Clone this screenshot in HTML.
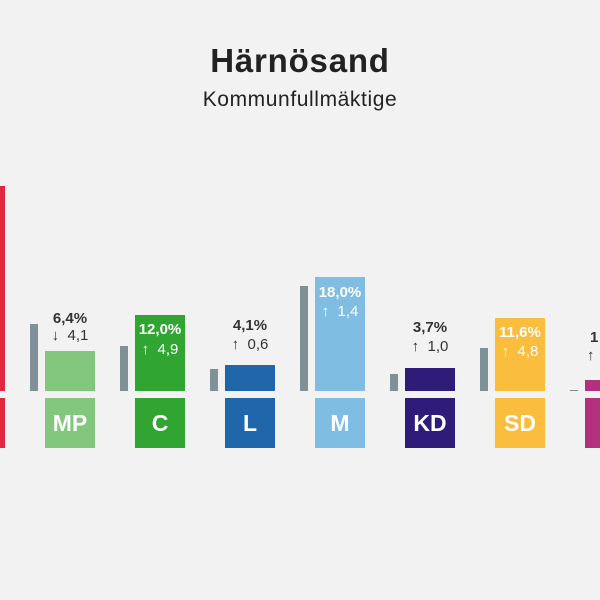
<!DOCTYPE html>
<html><head><meta charset="utf-8"><style>
html,body{margin:0;width:600px;height:600px;overflow:hidden;}
body{background:#f2f2f2;position:relative;font-family:"Liberation Sans",sans-serif;}
.a{position:absolute;}
.t{position:absolute;left:0;width:600px;text-align:center;color:#222;}
.lab{position:absolute;width:50px;height:50px;top:398px;color:#fff;font-weight:bold;font-size:23px;text-align:center;line-height:50px;}
.p{position:absolute;width:60px;text-align:center;font-weight:bold;font-size:15px;line-height:16px;}
.c{position:absolute;width:60px;text-align:center;font-size:15px;line-height:16px;}
.g{position:absolute;width:8px;background:#7f9196;}
</style></head><body>
<div class="t" style="top:42px;font-size:33px;font-weight:bold;letter-spacing:0.8px;">Härnösand</div>
<div class="t" style="top:88px;font-size:21px;letter-spacing:0.6px;">Kommunfullmäktige</div>

<!-- S -->
<div class="a" style="left:0;top:186px;width:5px;height:205px;background:#e0283e"></div>
<div class="a" style="left:0;top:398px;width:5px;height:50px;background:#e0283e"></div>

<!-- MP -->
<div class="g" style="left:30px;top:324px;height:67px"></div>
<div class="a" style="left:45px;top:351px;width:50px;height:40px;background:#83c77f"></div>
<div class="lab" style="left:45px;background:#83c77f">MP</div>
<div class="p" style="left:40px;top:311px;color:#333">6,4%</div>
<div class="c" style="left:40px;top:328px;color:#333">↓&nbsp; 4,1</div>

<!-- C -->
<div class="g" style="left:120px;top:346px;height:45px"></div>
<div class="a" style="left:135px;top:315px;width:50px;height:76px;background:#31a532"></div>
<div class="lab" style="left:135px;background:#31a532">C</div>
<div class="p" style="left:130px;top:322px;color:#fff">12,0%</div>
<div class="c" style="left:130px;top:342px;color:#fff">↑&nbsp; 4,9</div>

<!-- L -->
<div class="g" style="left:210px;top:369px;height:22px"></div>
<div class="a" style="left:225px;top:365px;width:50px;height:26px;background:#1f66ab"></div>
<div class="lab" style="left:225px;background:#1f66ab">L</div>
<div class="p" style="left:220px;top:318px;color:#333">4,1%</div>
<div class="c" style="left:220px;top:337px;color:#333">↑&nbsp; 0,6</div>

<!-- M -->
<div class="g" style="left:300px;top:286px;height:105px"></div>
<div class="a" style="left:315px;top:277px;width:50px;height:114px;background:#7fbde3"></div>
<div class="lab" style="left:315px;background:#7fbde3">M</div>
<div class="p" style="left:310px;top:285px;color:#fff">18,0%</div>
<div class="c" style="left:310px;top:304px;color:#fff">↑&nbsp; 1,4</div>

<!-- KD -->
<div class="g" style="left:390px;top:374px;height:17px"></div>
<div class="a" style="left:405px;top:368px;width:50px;height:23px;background:#2e1b7a"></div>
<div class="lab" style="left:405px;background:#2e1b7a">KD</div>
<div class="p" style="left:400px;top:320px;color:#333">3,7%</div>
<div class="c" style="left:400px;top:339px;color:#333">↑&nbsp; 1,0</div>

<!-- SD -->
<div class="g" style="left:480px;top:348px;height:43px"></div>
<div class="a" style="left:495px;top:318px;width:50px;height:73px;background:#fbbd3e"></div>
<div class="lab" style="left:495px;background:#fbbd3e">SD</div>
<div class="p" style="left:490px;top:325px;color:#fff">11,6%</div>
<div class="c" style="left:490px;top:344px;color:#fff">↑&nbsp; 4,8</div>

<!-- last -->
<div class="g" style="left:570px;top:390px;height:1px"></div>
<div class="a" style="left:585px;top:380px;width:15px;height:11px;background:#b2307d"></div>
<div class="a" style="left:585px;top:398px;width:15px;height:50px;background:#b2307d"></div>
<div class="a" style="left:590px;top:330px;font-weight:bold;font-size:15px;line-height:16px;color:#333">1</div>
<div class="a" style="left:587px;top:348px;font-size:15px;line-height:16px;color:#333">↑</div>
</body></html>
